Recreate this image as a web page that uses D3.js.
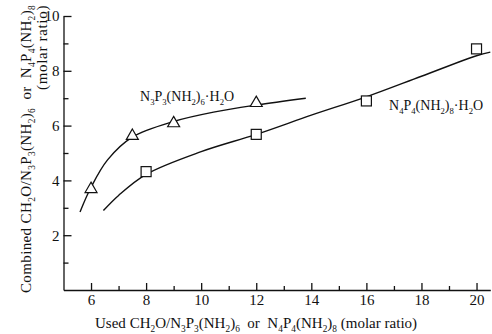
<!DOCTYPE html>
<html>
<head>
<meta charset="utf-8">
<script src="https://cdn.jsdelivr.net/npm/d3@7"></script>
<style>
  body { margin: 0; background: #fff; }
  svg text { font-family: "Liberation Serif", "DejaVu Serif", serif; fill: #111; }
</style>
</head>
<body>
<div id="chart"></div>
<script>
// measured points (triangles: N3P3 series, squares: N4P4 series)
const triX = [6, 7.5, 9, 12];
const triY = [3.72, 5.66, 6.12, 6.86];
const sqX = [8, 12, 16, 20];
const sqY = [4.32, 5.68, 6.9, 8.8];

// smooth fitted curves
const triCurveX = [5.6, 6, 6.6, 7.5, 9, 10.5, 12, 13.8];
const triCurveY = [2.85, 3.75, 4.75, 5.58, 6.15, 6.5, 6.75, 7.0];
const sqCurveX = [6.45, 7, 8, 10, 12, 14, 16, 18, 20, 20.5];
const sqCurveY = [2.9, 3.45, 4.22, 5.05, 5.68, 6.38, 7.05, 7.8, 8.55, 8.68];

const xMajor = [6, 8, 10, 12, 14, 16, 18, 20];
const xMinor = [7, 9, 11, 13, 15, 17, 19];
const yMajor = [2, 4, 6, 8, 10];
const yMinor = [1, 3, 5, 7, 9];

const width = 492, height = 334;

const svg = d3.select('#chart').append('svg')
  .attr('width', width)
  .attr('height', height);

const x = d3.scaleLinear().domain([5, 20.5]).range([63.5, 490.3]);
const y = d3.scaleLinear().domain([0, 10]).range([290, 16]);

// axes, ticks pointing inward
svg.append('g').attr('transform', 'translate(0,290)')
  .call(d3.axisBottom(x).tickValues(xMajor).tickSizeInner(-7).tickSizeOuter(0).tickPadding(4));
svg.append('g').attr('transform', 'translate(0,290)')
  .call(d3.axisBottom(x).tickValues(xMinor).tickSizeInner(-4).tickSizeOuter(0).tickFormat(''))
  .select('.domain').remove();

svg.append('g').attr('transform', 'translate(63.5,0)')
  .call(d3.axisLeft(y).tickValues(yMajor).tickSizeInner(-8).tickSizeOuter(0).tickPadding(4));
svg.append('g').attr('transform', 'translate(63.5,0)')
  .call(d3.axisLeft(y).tickValues(yMinor).tickSizeInner(-5).tickSizeOuter(0).tickFormat(''))
  .select('.domain').remove();

svg.selectAll('.domain').attr('stroke', '#111').attr('stroke-width', 1.3);
svg.selectAll('.tick line').attr('stroke', '#111').attr('stroke-width', 1.3);
svg.selectAll('.tick text')
  .attr('font-family', '"Liberation Serif", serif')
  .attr('font-size', 15)
  .attr('fill', '#111');

// curves
const line = d3.line()
  .x(d => x(d[0]))
  .y(d => y(d[1]))
  .curve(d3.curveCatmullRom.alpha(0.5));

svg.append('path')
  .datum(d3.zip(triCurveX, triCurveY))
  .attr('fill', 'none').attr('stroke', '#111').attr('stroke-width', 1.4)
  .attr('d', line);
svg.append('path')
  .datum(d3.zip(sqCurveX, sqCurveY))
  .attr('fill', 'none').attr('stroke', '#111').attr('stroke-width', 1.4)
  .attr('d', line);

// markers
const tri = d3.symbol().type(d3.symbolTriangle).size(62);
svg.selectAll('.tri')
  .data(d3.zip(triX, triY))
  .join('path')
  .attr('class', 'tri')
  .attr('transform', d => 'translate(' + x(d[0]) + ',' + (y(d[1]) + 1) + ')')
  .attr('d', tri)
  .attr('fill', '#fff').attr('stroke', '#111').attr('stroke-width', 1.2);

svg.selectAll('.sq')
  .data(d3.zip(sqX, sqY))
  .join('rect')
  .attr('class', 'sq')
  .attr('x', d => x(d[0]) - 5)
  .attr('y', d => y(d[1]) - 5)
  .attr('width', 10).attr('height', 10)
  .attr('fill', '#fff').attr('stroke', '#111').attr('stroke-width', 1.2);

// text with subscripts, written like "N_3P_3(NH_2)_6"
function richText(sel, str, size) {
  const parts = str.split(/(_\d)/).filter(p => p);
  let shift = 0;
  parts.forEach(p => {
    const sub = p[0] === '_';
    const ts = sel.append('tspan')
      .text(sub ? p[1] : p)
      .attr('font-size', sub ? size * 0.62 : size);
    const want = sub ? size * 0.25 : 0;
    if (want !== shift) ts.attr('dy', want - shift);
    shift = want;
  });
  return sel;
}

// stretch letter spacing so a title fills the length seen in the figure
function fitLength(sel, target) {
  const n = sel.text().length;
  const len = sel.node().getComputedTextLength();
  sel.attr('letter-spacing', ((target - len) / n).toFixed(2));
  return sel;
}

richText(svg.append('text').attr('x', 140).attr('y', 101).attr('font-size', 14),
  'N_3P_3(NH_2)_6\u00b7H_2O', 14);
richText(svg.append('text').attr('x', 389).attr('y', 110).attr('font-size', 14),
  'N_4P_4(NH_2)_8\u00b7H_2O', 14);

const xTitle = richText(svg.append('text').attr('x', 95).attr('y', 328).attr('font-size', 15)
  .attr('xml:space', 'preserve'),
  'Used CH_2O/N_3P_3(NH_2)_6  or  N_4P_4(NH_2)_8 (molar ratio)', 15);
fitLength(xTitle, 322);

const yTitle = richText(svg.append('text')
  .attr('transform', 'translate(31,293) rotate(-90)')
  .attr('font-size', 15).attr('xml:space', 'preserve'),
  'Combined CH_2O/N_3P_3(NH_2)_6  or  N_4P_4(NH_2)_8', 15);
fitLength(yTitle, 288);

const yTitle2 = svg.append('text')
  .attr('transform', 'translate(47,90) rotate(-90)')
  .attr('font-size', 15)
  .text('(molar ratio)');
fitLength(yTitle2, 85);
</script>
</body>
</html>
